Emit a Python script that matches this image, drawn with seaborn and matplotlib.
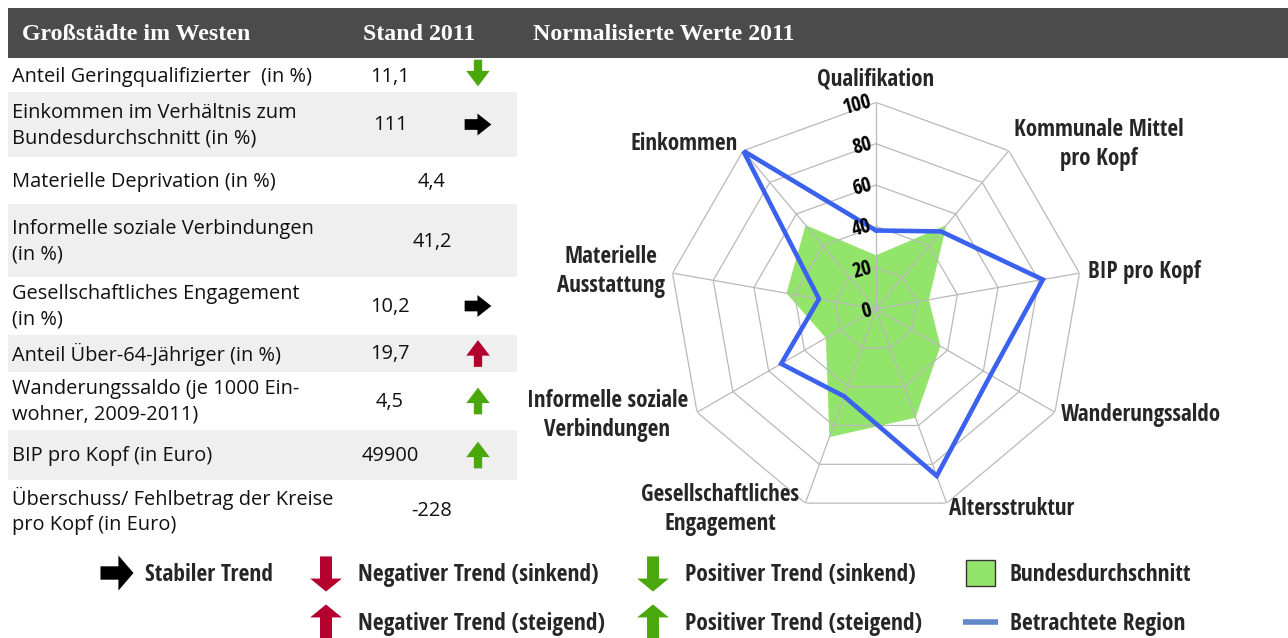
import numpy as np
import pandas as pd
import matplotlib
matplotlib.use("Agg")
import matplotlib.pyplot as plt
import seaborn as sns
from matplotlib.path import Path
from matplotlib.patches import Rectangle
from matplotlib import font_manager as fm
from matplotlib.font_manager import FontProperties

# ---------------- data ----------------
header_titles = ["Großstädte im Westen", "Stand 2011", "Normalisierte Werte 2011"]
indicators = [
    "Anteil Geringqualifizierter  (in %)",
    "Einkommen im Verhältnis zum\nBundesdurchschnitt (in %)",
    "Materielle Deprivation (in %)",
    "Informelle soziale Verbindungen\n(in %)",
    "Gesellschaftliches Engagement\n(in %)",
    "Anteil Über-64-Jähriger (in %)",
    "Wanderungssaldo (je 1000 Ein-\nwohner, 2009-2011)",
    "BIP pro Kopf (in Euro)",
    "Überschuss/ Fehlbetrag der Kreise\npro Kopf (in Euro)",
]
values_2011 = ["11,1", "111", "4,4", "41,2", "10,2", "19,7", "4,5", "49900", "-228"]
trends = ["pos_down", "stable", "", "", "stable", "neg_up", "pos_up", "pos_up", ""]

radar_labels = [
    "Qualifikation", "Kommunale Mittel\npro Kopf", "BIP pro Kopf", "Wanderungssaldo",
    "Altersstruktur", "Gesellschaftliches\nEngagement", "Informelle soziale\nVerbindungen",
    "Materielle\nAusstattung", "Einkommen",
]
bund_values = [26, 53, 26, 36, 56, 66, 28, 44, 53]
region_values = [38, 49, 82, 64, 86, 45, 53, 28, 100]
radial_ticks = [0, 20, 40, 60, 80, 100]

legend_trend_labels = {
    "stable": "Stabiler Trend",
    "neg_down": "Negativer Trend (sinkend)",
    "pos_down": "Positiver Trend (sinkend)",
    "neg_up": "Negativer Trend (steigend)",
    "pos_up": "Positiver Trend (steigend)",
}
legend_series_labels = ["Bundesdurchschnitt", "Betrachtete Region"]

# ---------------- style ----------------
sns.set_theme(style="white")
avail = {f.name for f in fm.fontManager.ttflist}
TABLE_FONT = "Open Sans" if "Open Sans" in avail else "DejaVu Sans"
SERIF = "Liberation Serif" if "Liberation Serif" in avail else "DejaVu Serif"
plt.rcParams["font.family"] = [TABLE_FONT, "DejaVu Sans"]


def pick_condensed():
    best, best_score = None, -1e9
    fam_pref = ["Liberation Sans Narrow", "Noto Sans", "Open Sans", "Roboto", "Lato",
                "DejaVu Sans", "Inter"]
    for f in fm.fontManager.ttflist:
        st = str(f.stretch).lower()
        nm = f.name
        if str(f.style).lower() != "normal":
            continue
        narrow = ("condensed" in st) or ("narrow" in st) or ("Narrow" in nm) or ("Condensed" in nm)
        if not narrow or "ultra" in st or "extra" in st:
            continue
        w = f.weight if isinstance(f.weight, (int, float)) else fm.weight_dict.get(str(f.weight), 400)
        score = -abs(w - 620) / 100.0
        score += 1.0 if ("semi" not in st) else 0.5
        base = nm.replace(" Condensed", "").replace(" Narrow", "")
        if base in fam_pref or nm in fam_pref:
            score += 2 - 0.1 * (fam_pref.index(nm) if nm in fam_pref else fam_pref.index(base))
        if score > best_score:
            best, best_score = f.fname, score
    return best


cond_file = pick_condensed()
if cond_file:
    COND_FP = FontProperties(fname=cond_file)
else:
    COND_FP = FontProperties(family=["Roboto", "DejaVu Sans"], weight="bold")

GREEN_FILL = "#93e46b"
BLUE = "#3b62ef"
GRID = "#b9b9b9"
HEADER_BG = "#4b4b4b"
ROW_GRAY = "#efefef"
colors = {"stable": "#000000", "neg_down": "#b3002d", "neg_up": "#b3002d",
          "pos_down": "#4aa80c", "pos_up": "#4aa80c"}


def make_path(verts):
    verts = np.asarray(verts, dtype=float)
    codes = [Path.MOVETO] + [Path.LINETO] * (len(verts) - 2) + [Path.CLOSEPOLY]
    return Path(verts, codes)


def vertical_arrow(up, hw, sw, base):
    v = np.array([(-sw, -0.5), (sw, -0.5), (sw, base), (hw, base), (0, 0.5),
                  (-hw, base), (-sw, base), (-sw, -0.5)])
    if not up:
        v = v * np.array([1, -1])
    return make_path(v)


def right_arrow(hh, sh, base, half_len=0.5):
    v = np.array([(-half_len, -sh), (-half_len, sh), (base, sh), (base, hh), (half_len, 0),
                  (base, -hh), (base, -sh), (-half_len, -sh)])
    return make_path(v * np.array([1, -1]))


# table markers
markers_tab = {"stable": right_arrow(0.41, 0.2, -0.02),
               "neg_down": vertical_arrow(False, 0.44, 0.155, -0.08),
               "pos_down": vertical_arrow(False, 0.44, 0.155, -0.08),
               "neg_up": vertical_arrow(True, 0.44, 0.155, -0.08),
               "pos_up": vertical_arrow(True, 0.44, 0.155, -0.08)}
# legend markers (larger heads)
markers_leg = {"stable": right_arrow(0.5, 0.19, 0.04, 0.47),
               "neg_down": vertical_arrow(False, 0.45, 0.17, 0.13),
               "pos_down": vertical_arrow(False, 0.45, 0.17, 0.13),
               "neg_up": vertical_arrow(True, 0.45, 0.17, 0.13),
               "pos_up": vertical_arrow(True, 0.45, 0.17, 0.13)}

# ---------------- figure ----------------
W, H = 1288, 638
fig = plt.figure(figsize=(W / 100, H / 100), dpi=100)
renderer = fig.canvas.get_renderer()


def fit_size(sample, target_px, **kw):
    t = fig.text(0, 0, sample, fontsize=10, **kw)
    w = t.get_window_extent(renderer).width
    t.remove()
    return 10 * target_px / w


table_fs = fit_size("Überschuss/ Fehlbetrag der Kreise", 320)
header_fs = fit_size(header_titles[0], 228, family=SERIF, fontweight="bold")
radar_fs = fit_size("Wanderungssaldo", 160, fontproperties=COND_FP)
legend_fs = fit_size("Negativer Trend (sinkend)", 240, fontproperties=COND_FP)
tick_fs = fit_size("100", 29, fontproperties=COND_FP)


def cond(size):
    fp = COND_FP.copy()
    fp.set_size(size)
    return fp


bg = fig.add_axes([0, 0, 1, 1])
bg.set_xlim(0, W)
bg.set_ylim(H, 0)
bg.axis("off")

# header bar
bg.add_patch(Rectangle((8, 8), W - 8, 50, color=HEADER_BG, lw=0))
for txt, x in zip(header_titles, [22, 363, 533]):
    bg.text(x, 35, txt, color="white", fontsize=header_fs, fontweight="bold",
            family=SERIF, va="center", ha="left")

# table rows
row_edges = [60, 92, 157, 204, 277, 335, 372, 430, 480, 540]
arrow_shift = [-3, 0, 0, 0, 0, 0, 0, 0, 0]
for i, (lab, val, tr) in enumerate(zip(indicators, values_2011, trends)):
    top, bot = row_edges[i], row_edges[i + 1]
    cy = (top + bot) / 2
    if i % 2 == 1:
        bg.add_patch(Rectangle((8, top), 509, bot - top, color=ROW_GRAY, lw=0))
    bg.text(12, cy + 1, lab, fontsize=table_fs, va="center", ha="left",
            linespacing=1.35, color="#111111")
    bg.text(390 if tr else 432, cy + 1, val, fontsize=table_fs, va="center",
            ha="center", color="#111111")

arrow_df = pd.DataFrame({
    "x": [478] * len(trends),
    "y": [(row_edges[i] + row_edges[i + 1]) / 2 + arrow_shift[i] for i in range(len(trends))],
    "trend": trends,
})
arrow_df = arrow_df[arrow_df["trend"] != ""]
sns.scatterplot(data=arrow_df, x="x", y="y", hue="trend", style="trend",
                markers={k: markers_tab[k] for k in arrow_df["trend"].unique()},
                palette={k: colors[k] for k in arrow_df["trend"].unique()},
                s=370, linewidth=0, legend=False, ax=bg)

# ---------------- legend ----------------
leg_items = pd.DataFrame({
    "trend": ["stable", "neg_down", "pos_down", "neg_up", "pos_up"],
    "x": [117, 326, 653, 326, 653],
    "y": [573, 574, 574, 622, 622],
})
sns.scatterplot(data=leg_items, x="x", y="y", hue="trend", style="trend",
                markers=markers_leg, palette=colors, s=640, linewidth=0,
                legend=False, ax=bg)
for tr, x, y in zip(leg_items["trend"], leg_items["x"], leg_items["y"]):
    bg.text(x + (28 if tr == "stable" else 32), 575 if y < 600 else 624,
            legend_trend_labels[tr], fontproperties=cond(legend_fs), va="center", ha="left")
bg.add_patch(Rectangle((966, 560), 29, 26, facecolor=GREEN_FILL, edgecolor="#333333", lw=1.0))
bg.plot([963, 998], [622, 622], color="#6089cc", lw=4, solid_capstyle="butt")
for lab, y in zip(legend_series_labels, [575, 624]):
    bg.text(1010, y, lab, fontproperties=cond(legend_fs), va="center", ha="left")
bg.set_xlabel("")
bg.set_ylabel("")

# ---------------- radar ----------------
cx, cy, R = 876, 309, 206.6
rad = fig.add_axes([(cx - R) / W, (H - cy - R) / H, 2 * R / W, 2 * R / H], projection="polar")
rad.set_facecolor("none")
rad.set_theta_zero_location("N")
rad.set_theta_direction(-1)
n = len(radar_labels)
ang = np.deg2rad(np.arange(n) * 360 / n)
ang_c = np.append(ang, ang[0] + 2 * np.pi)

rad.fill(ang_c, bund_values + bund_values[:1], color=GREEN_FILL, lw=0, zorder=1)
for r in radial_ticks[1:]:
    rad.plot(ang_c, [r] * (n + 1), color=GRID, lw=0.9, zorder=2)
for a in ang:
    rad.plot([a, a], [0, 100], color=GRID, lw=0.9, zorder=2)

line_df = pd.DataFrame({"theta": ang_c, "r": region_values + region_values[:1]})
sns.lineplot(data=line_df, x="theta", y="r", sort=False, estimator=None, ax=rad,
             color=BLUE, lw=3.3, zorder=3)
rad.lines[-1].set_solid_joinstyle("miter")

rad.set_ylim(0, 100)
rad.grid(False)
rad.spines["polar"].set_visible(False)
rad.set_xticks([])
rad.set_yticks([])
rad.set_xlabel("")
rad.set_ylabel("")

for v in radial_ticks:
    rad.annotate(str(v), xy=(0, v), xytext=(-1.5, -1.5), textcoords="offset points",
                 ha="right", va="center", rotation=15, fontproperties=cond(tick_fs),
                 color="#000000", zorder=4)

label_pos = [(0, 111, "center"), (40, 104, "left"), (80, 104, "left"), (120, 103, "left"),
             (160, 103, "left"), (201, 104, "right"), (240.5, 104.5, "right"),
             (280, 104, "right"), (320, 104, "right")]
for lab, (th, r, ha) in zip(radar_labels, label_pos):
    rad.text(np.deg2rad(th), r, lab, ha=ha, va="center", fontproperties=cond(radar_fs),
             multialignment="center", linespacing=1.3, clip_on=False)

fig.savefig("out.png", dpi=100)
